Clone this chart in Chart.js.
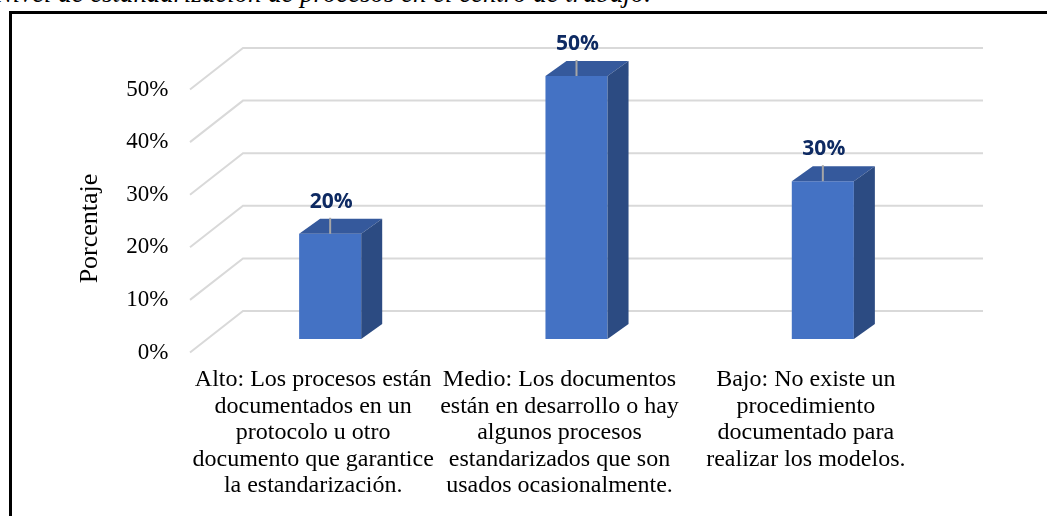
<!DOCTYPE html>
<html>
<head>
<meta charset="utf-8">
<script src="https://cdn.jsdelivr.net/npm/chart.js"></script>
<style>
    html, body {
        margin: 0;
        padding: 0;
        background: #fff;
        overflow: hidden;
    }
    body {
        width: 1047px;
        height: 516px;
        position: relative;
    }
    .caption {
        position: absolute;
        left: -5px;
        top: -20px;
        font: italic 26.8px/26px 'Liberation Serif', serif;
        white-space: nowrap;
        color: #000;
    }
    .frame {
        position: absolute;
        left: 9px;
        top: 11px;
        width: 2000px;
        height: 2000px;
        border-top: 3px solid #000;
        border-left: 3px solid #000;
    }
    .chart-box {
        position: absolute;
        left: 0;
        top: 0;
        width: 1047px;
        height: 516px;
    }
</style>
</head>
<body>

<div class="caption">Nivel de estandarización de procesos en el centro de trabajo.</div>
<div class="frame"></div>
<div class="chart-box">
    <canvas id="nivelChart"></canvas>
</div>

<script>
const categorias = [
    ['Alto: Los procesos están', 'documentados en un', 'protocolo u otro', 'documento que garantice', 'la estandarización.'],
    ['Medio: Los documentos', 'están en desarrollo o hay', 'algunos procesos', 'estandarizados que son', 'usados ocasionalmente.'],
    ['Bajo: No existe un', 'procedimiento', 'documentado para', 'realizar los modelos.']
];
const porcentajes = [20, 50, 30];
const yTicks = [0, 10, 20, 30, 40, 50];
const yTitle = 'Porcentaje';

// depth of the bars and of the back wall (pseudo 3D)
const DEPTH_X = 21, DEPTH_Y = -15;

const bar3d = {
    id: 'bar3d',
    beforeDatasetsDraw(chart) {
        // grid lines: short diagonal on the floor side, then along the back wall
        const { ctx, chartArea: a, scales: { y } } = chart;
        ctx.save();
        ctx.strokeStyle = '#d9d9d9';
        ctx.lineWidth = 2;
        yTicks.forEach(v => {
            const py = y.getPixelForValue(v);
            ctx.beginPath();
            ctx.moveTo(a.left - 17, py + 13.5);
            ctx.lineTo(a.left + 36, py - 28);
            ctx.lineTo(a.right + 37, py - 28);
            ctx.stroke();
        });
        ctx.restore();
    },
    afterDatasetsDraw(chart) {
        const { ctx } = chart;
        const ds = chart.data.datasets[0];
        chart.getDatasetMeta(0).data.forEach((bar, i) => {
            const x1 = bar.x - bar.width / 2;
            const x2 = bar.x + bar.width / 2;
            const top = bar.y, base = bar.base;
            ctx.save();
            // top face
            ctx.fillStyle = '#35599c';
            ctx.beginPath();
            ctx.moveTo(x1, top);
            ctx.lineTo(x1 + DEPTH_X, top + DEPTH_Y);
            ctx.lineTo(x2 + DEPTH_X, top + DEPTH_Y);
            ctx.lineTo(x2, top);
            ctx.closePath();
            ctx.fill();
            // right side face
            ctx.fillStyle = '#2c4b82';
            ctx.beginPath();
            ctx.moveTo(x2, top);
            ctx.lineTo(x2 + DEPTH_X, top + DEPTH_Y);
            ctx.lineTo(x2 + DEPTH_X, base + DEPTH_Y);
            ctx.lineTo(x2, base);
            ctx.closePath();
            ctx.fill();
            // leader line up to the value label
            ctx.strokeStyle = '#a6a6a6';
            ctx.lineWidth = 2;
            ctx.beginPath();
            ctx.moveTo(bar.x, top);
            ctx.lineTo(bar.x, top - 16);
            ctx.stroke();
            // value label
            ctx.fillStyle = '#0e2a62';
            ctx.font = 'bold 21px "Open Sans"';
            ctx.textAlign = 'center';
            ctx.textBaseline = 'middle';
            ctx.fillText(ds.data[i] + '%', bar.x + 1, top - 32);
            ctx.restore();
        });
    },
    afterDraw(chart) {
        const { ctx } = chart;
        ctx.save();
        ctx.translate(90, 228.5);
        ctx.rotate(-Math.PI / 2);
        ctx.font = '26px "Liberation Serif"';
        ctx.fillStyle = '#000';
        ctx.textAlign = 'center';
        ctx.textBaseline = 'middle';
        ctx.fillText(yTitle, 0, 0);
        ctx.restore();
    }
};

Chart.defaults.font.family = 'Liberation Serif';
Chart.defaults.color = '#000';

new Chart(document.getElementById('nivelChart'), {
    type: 'bar',
    data: {
        labels: categorias,
        datasets: [{
            data: porcentajes,
            backgroundColor: '#4472c4',
            borderWidth: 0,
            barPercentage: 0.252,
            categoryPercentage: 1
        }]
    },
    options: {
        responsive: true,
        maintainAspectRatio: false,
        animation: false,
        layout: {
            padding: { left: 0, right: 101, top: 76, bottom: 17 }
        },
        plugins: {
            legend: { display: false },
            tooltip: { enabled: false }
        },
        scales: {
            x: {
                grid: { display: false, drawTicks: false },
                border: { display: false },
                ticks: {
                    font: { size: 24, lineHeight: 1.1 },
                    color: '#000',
                    padding: 28,
                    labelOffset: -17,
                    maxRotation: 0,
                    minRotation: 0,
                    autoSkip: false
                },
                afterFit(scale) { scale.height = 160; }
            },
            y: {
                min: 0,
                max: 50,
                grid: { display: false, drawTicks: false },
                border: { display: false },
                ticks: {
                    font: { size: 23 },
                    color: '#000',
                    padding: 38.5,
                    labelOffset: 13.5,
                    callback: v => v + '%'
                },
                afterBuildTicks(scale) {
                    scale.ticks = yTicks.map(v => ({ value: v }));
                },
                afterFit(scale) { scale.width = 207; }
            }
        }
    },
    plugins: [bar3d]
});
</script>
</body>
</html>
